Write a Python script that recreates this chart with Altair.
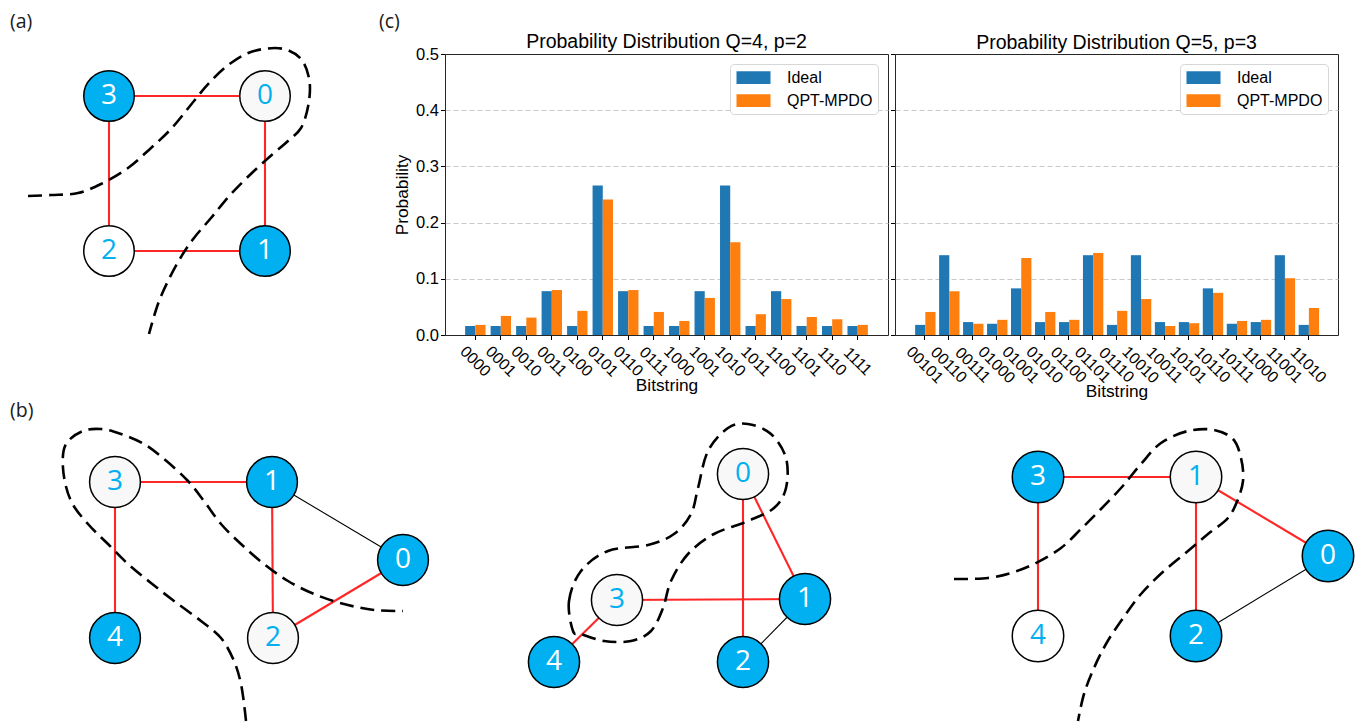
import altair as alt
import pandas as pd

# ---------------- bar-chart data ----------------
series = ["Ideal", "QPT-MPDO"]
series_colors = ["#1f77b4", "#ff7f0e"]
y_ticks = [0.0, 0.1, 0.2, 0.3, 0.4, 0.5]

bits_q4 = ["0000", "0001", "0010", "0011", "0100", "0101", "0110", "0111",
           "1000", "1001", "1010", "1011", "1100", "1101", "1110", "1111"]
ideal_q4 = [0.016, 0.016, 0.016, 0.078, 0.016, 0.266, 0.078, 0.016,
            0.016, 0.078, 0.266, 0.016, 0.078, 0.016, 0.016, 0.016]
qpt_q4 = [0.018, 0.034, 0.031, 0.080, 0.043, 0.241, 0.080, 0.041,
          0.025, 0.066, 0.165, 0.037, 0.064, 0.032, 0.028, 0.018]

bits_q5 = ["00101", "00110", "00111", "01000", "01001", "01010", "01100", "01101", "01110",
           "10010", "10011", "10101", "10110", "10111", "11000", "11001", "11010"]
ideal_q5 = [0.018, 0.142, 0.023, 0.020, 0.083, 0.023, 0.023, 0.142, 0.018,
            0.142, 0.023, 0.023, 0.083, 0.020, 0.023, 0.142, 0.018]
qpt_q5 = [0.041, 0.078, 0.020, 0.027, 0.137, 0.041, 0.027, 0.146, 0.043,
          0.064, 0.016, 0.021, 0.075, 0.025, 0.027, 0.101, 0.048]

# ---------------- graph diagrams (page coordinates) ----------------
panels = ["a", "b1", "b2", "b3"]
node_panel = ["a"] * 4 + ["b1"] * 5 + ["b2"] * 5 + ["b3"] * 5
node_id = [3, 0, 2, 1,
           3, 1, 0, 4, 2,
           0, 3, 1, 2, 4,
           3, 1, 0, 4, 2]
node_x = [108, 264, 108, 264,
          114, 271, 402, 114, 272,
          742, 616, 804, 742, 553,
          1037, 1195, 1327, 1037, 1195]
node_y = [95, 95, 250, 250,
          481, 481, 559, 637, 637,
          473, 599, 598, 661, 661,
          476, 476, 555, 635, 635]
node_state = ["on", "off", "blank", "on",
              "off", "on", "on", "on", "off",
              "off", "off", "on", "on", "on",
              "on", "off", "on", "blank", "on"]

edge_panel = ["a"] * 4 + ["b1"] * 5 + ["b2"] * 5 + ["b3"] * 5
edge_u = [3, 0, 3, 2,
          3, 1, 3, 1, 2,
          0, 0, 3, 3, 1,
          3, 3, 1, 1, 2]
edge_v = [0, 1, 2, 1,
          1, 2, 4, 0, 0,
          1, 2, 1, 4, 2,
          1, 4, 2, 0, 0]

# dashed cut curves
curve_a_x = [27, 50, 77, 100, 127, 150, 170, 193, 208, 230, 253, 283, 300, 308, 308, 300,
             287, 273, 253, 230, 210, 193, 180, 167, 157, 148]
curve_a_y = [195, 194, 192, 183, 167, 147, 128, 100, 82, 62, 50, 48, 58, 77, 100, 127,
             140, 152, 170, 193, 217, 237, 256, 280, 303, 333]
curve_b1_x = [245, 240, 233, 220, 200, 173, 150, 127, 107, 87, 70, 62, 65, 82, 100, 120,
              143, 163, 187, 203, 220, 240, 263, 287, 313, 343, 373, 402]
curve_b1_y = [720, 683, 660, 637, 620, 600, 582, 563, 543, 523, 500, 467, 443, 430, 428, 433,
              443, 458, 480, 500, 523, 543, 563, 580, 593, 603, 609, 610]
curve_b3_x = [953, 987, 1010, 1033, 1060, 1080, 1100, 1120, 1140, 1160, 1187, 1213, 1232,
              1240, 1242, 1235, 1227, 1207, 1187, 1163, 1140, 1120, 1105, 1093, 1083, 1077]
curve_b3_y = [578, 577, 572, 563, 547, 528, 508, 487, 463, 442, 430, 429, 438,
              457, 480, 503, 517, 533, 550, 570, 593, 620, 643, 667, 693, 720]
loop_b2_x = [572, 568, 580, 607, 647, 673, 690, 697, 707, 727, 747, 770, 785, 785,
             773, 747, 713, 687, 670, 662, 650, 630, 603, 580]
loop_b2_y = [630, 600, 570, 550, 544, 533, 513, 487, 450, 427, 423, 433, 457, 487,
             507, 520, 533, 553, 580, 607, 630, 640, 640, 633]

panel_labels = ["(a)", "(b)", "(c)"]
panel_label_x = [9, 9, 378]
panel_label_y = [21, 410, 21]

page_anchor_x = [8]
page_anchor_y = [8]

# ---------------- build tables ----------------
nodes = pd.DataFrame({"panel": node_panel, "id": [str(i) for i in node_id],
                      "x": node_x, "y": node_y, "state": node_state})
lookup = {(p, i): (x, y, s) for p, i, x, y, s in zip(node_panel, node_id, node_x, node_y, node_state)}
erows = []
for p, u, v in zip(edge_panel, edge_u, edge_v):
    xu, yu, su = lookup[(p, u)]
    xv, yv, sv = lookup[(p, v)]
    erows.append({"panel": p, "x": xu, "y": yu, "x2": xv, "y2": yv,
                  "kind": "cut" if (su == "on") != (sv == "on") else "uncut"})
edges = pd.DataFrame(erows)

crow = []
for name, xs, ys in [("a", curve_a_x, curve_a_y), ("b1", curve_b1_x, curve_b1_y),
                     ("b3", curve_b3_x, curve_b3_y)]:
    for k, (x, y) in enumerate(zip(xs, ys)):
        crow.append({"curve": name, "idx": k, "x": x, "y": y})
curves_open = pd.DataFrame(crow)
loop = pd.DataFrame({"curve": "b2", "idx": list(range(len(loop_b2_x))),
                     "x": loop_b2_x, "y": loop_b2_y})
labels_df = pd.DataFrame({"t": panel_labels, "x": panel_label_x, "y": panel_label_y})
anchor_df = pd.DataFrame({"x": page_anchor_x, "y": page_anchor_y,
                          "x2": [page_anchor_x[0] + 1], "y2": [page_anchor_y[0] + 1]})

CANVAS_W = 429
PLOT_W, PLOT_H = 443, 281
X = alt.X("x:Q", scale=alt.Scale(domain=[8, 8 + CANVAS_W], nice=False, zero=False), axis=None)
Y = alt.Y("y:Q", scale=alt.Scale(domain=[53, 53 + PLOT_H], nice=False, zero=False, reverse=True), axis=None)

anchor = alt.Chart(anchor_df).mark_rect(opacity=0).encode(x=X, y=Y, x2="x2:Q", y2="y2:Q")

edge_layer = alt.Chart(edges).mark_rule().encode(
    x=X, y=Y, x2="x2:Q", y2="y2:Q",
    stroke=alt.Stroke("kind:N", scale=alt.Scale(domain=["cut", "uncut"], range=["#FF2626", "#000000"]), legend=None),
    strokeWidth=alt.StrokeWidth("kind:N", scale=alt.Scale(domain=["cut", "uncut"], range=[2.1, 1.1]), legend=None),
)

dash = [14, 7]
open_layer = alt.Chart(curves_open).mark_line(
    interpolate="catmull-rom", strokeDash=dash, strokeWidth=2.6, color="black"
).encode(x=X, y=Y, detail="curve:N", order="idx:Q")
loop_layer = alt.Chart(loop).mark_line(
    interpolate="cardinal-closed", strokeDash=dash, strokeWidth=2.6, color="black"
).encode(x=X, y=Y, detail="curve:N", order="idx:Q")

node_layer = alt.Chart(nodes).mark_point(
    shape="circle", filled=True, opacity=1, stroke="black", strokeWidth=1.5
).encode(
    x=X, y=Y,
    fill=alt.Fill("state:N", scale=alt.Scale(domain=["on", "off", "blank"],
                                             range=["#00B0F0", "#F8F8F8", "#FFFFFF"]), legend=None),
    size=alt.Size("panel:N", scale=alt.Scale(domain=panels, range=[2550, 2650, 3800, 2750]), legend=None),
)
node_text = alt.Chart(nodes).mark_text(
    font="Open Sans", fontSize=28, align="center", baseline="middle"
).encode(
    x=X, y=Y, text="id:N",
    color=alt.condition("datum.state == 'on'", alt.value("white"), alt.value("#00B0F0")),
)
label_layer = alt.Chart(labels_df).mark_text(
    font="Open Sans", fontSize=19.5, align="left", baseline="middle", color="#1a1a1a"
).encode(x=X, y=Y, text="t:N")

canvas = alt.layer(anchor, edge_layer, open_layer, loop_layer, node_layer, node_text, label_layer).properties(
    width=CANVAS_W, height=PLOT_H, view=alt.ViewBackground(stroke="transparent")
)

# ---------------- bar charts ----------------
FONT = "Liberation Sans"
symbol_path = "M-2,-0.75L2,-0.75L2,0.75L-2,0.75Z"


def bar_panel(bits, ideal, qpt, title, outer_pad, label_pad, show_y, title_dy):
    df = pd.DataFrame({
        "bitstring": bits + bits,
        "series": [series[0]] * len(bits) + [series[1]] * len(bits),
        "prob": ideal + qpt,
    })
    yaxis = alt.Axis(
        values=y_ticks, format=".1f", labels=show_y,
        title="Probability" if show_y else None,
        labelFont=FONT, labelFontSize=16.5, labelColor="black", labelPadding=2,
        titleFont=FONT, titleFontSize=17.3, titleFontWeight="normal", titleColor="black", titlePadding=4,
        tickSize=4.5, tickColor="black", tickWidth=1, domain=False,
        grid=True, gridColor="#c8c8c8", gridDash=[5, 3], gridWidth=1,
        gridOpacity=alt.condition("datum.value <= 0 || datum.value >= 0.5", alt.value(0), alt.value(1)),
    )
    xaxis = alt.Axis(
        title="Bitstring", labelAngle=45, labelAlign="center", labelBaseline="middle",
        labelPadding=label_pad, labelFont=FONT, labelFontSize=16, labelColor="black",
        labelOverlap=False, labelFlush=False, bandPosition=0.5,
        tickSize=4.5, tickColor="black", tickWidth=1, domain=False, grid=False,
        titleFont=FONT, titleFontSize=17.3, titleFontWeight="normal", titleColor="black", titlePadding=-3,
    )
    legend = alt.Legend(
        title=None, orient="top-right", offset=10, fillColor="white", strokeColor="#d6d6d6",
        cornerRadius=4, padding=5, symbolType=symbol_path, symbolSize=289, symbolStrokeWidth=0,
        symbolOpacity=1, symbolOffset=10, labelOffset=25, rowPadding=6,
        labelFont=FONT, labelFontSize=16, labelColor="black",
    )
    return alt.Chart(df).mark_bar().encode(
        x=alt.X("bitstring:N", sort=bits,
                scale=alt.Scale(paddingInner=0.2, paddingOuter=outer_pad), axis=xaxis),
        xOffset=alt.XOffset("series:N", sort=series),
        y=alt.Y("prob:Q", scale=alt.Scale(domain=[0, 0.5], nice=False), axis=yaxis),
        color=alt.Color("series:N", sort=series,
                        scale=alt.Scale(domain=series, range=series_colors), legend=legend),
    ).properties(
        width=PLOT_W, height=PLOT_H,
        title=alt.TitleParams(title, font=FONT, fontSize=19.5, fontWeight="normal", color="black",
                              anchor="middle", frame="group", offset=4, baseline="alphabetic",
                              dy=title_dy),
        view=alt.ViewBackground(stroke="#262626", strokeWidth=1),
    )


p1 = bar_panel(bits_q4, ideal_q4, qpt_q4, "Probability Distribution Q=4, p=2", 0.79, 21.5, True, 25)
p2 = bar_panel(bits_q5, ideal_q5, qpt_q5, "Probability Distribution Q=5, p=3", 0.84, 25, False, 19)

chart = alt.HConcatChart(
    hconcat=[canvas, p1, p2], spacing=7, bounds="flush", padding=0,
).resolve_scale(color="independent").resolve_legend(color="independent").configure_view(
    stroke="transparent"
)

chart.save("out.html", embed_options={"renderer": "svg", "actions": False})
